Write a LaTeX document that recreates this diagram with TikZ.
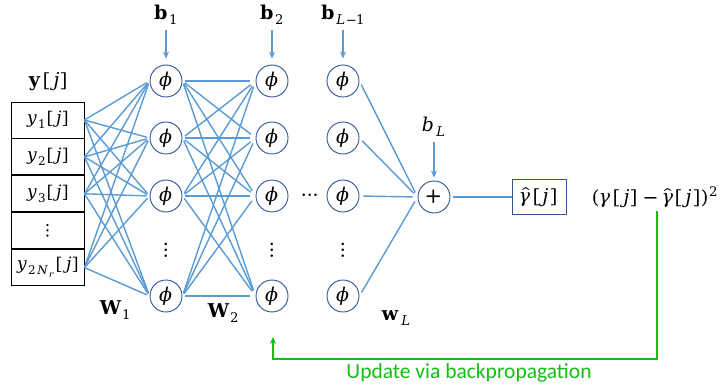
\documentclass[tikz,border=0pt]{standalone}
\usepackage{fontspec}
\usepackage{unicode-math}
\setmathfont{DejaVu Math TeX Gyre}
\newfontfamily\labelfont{Carlito}
\usetikzlibrary{arrows.meta}
\definecolor{linkblue}{RGB}{91,155,213}
\definecolor{ringblue}{RGB}{47,85,151}
\definecolor{updgreen}{RGB}{20,190,20}
\tikzset{
  neuron/.style={circle, draw=ringblue, line width=0.9pt, minimum size=32pt, inner sep=0pt, fill=white},
  inrow/.style={rectangle, draw=black, line width=0.9pt, minimum width=73pt, minimum height=36pt, inner sep=0pt},
  link/.style={draw=linkblue, line width=1.4pt},
  biasarrow/.style={draw=linkblue, line width=1.4pt, -{Stealth[length=7pt,width=6pt]}},
  mathlbl/.style={font=\fontsize{17}{20}\selectfont, inner sep=0pt},
  biglbl/.style={font=\fontsize{19}{22}\selectfont, inner sep=0pt},
}
\begin{document}
\begin{tikzpicture}[x=1pt,y=-1pt]
\useasboundingbox (0,0) rectangle (722,390);

% input vector
\node[biglbl] (ylab) at (48,82) {$\symbf{y}[j]$};
\node[inrow, mathlbl] (r1) at (47.5,120) {$y_1[j]$};
\node[inrow, mathlbl, anchor=north] (r2) at (r1.south) {$y_2[j]$};
\node[inrow, mathlbl, anchor=north] (r3) at (r2.south) {$y_3[j]$};
\node[inrow, mathlbl, anchor=north] (r4) at (r3.south) {$\vdots$};
\node[inrow, mathlbl, anchor=north] (r5) at (r4.south) {$y_{2N_r}[j]$};

% hidden layers
\foreach \c/\x in {a/166, b/272, c/343} {
  \node[neuron, biglbl] (\c1) at (\x,81) {$\phi$};
  \node[neuron, biglbl] (\c2) at (\x,138) {$\phi$};
  \node[neuron, biglbl] (\c3) at (\x,196) {$\phi$};
  \node[biglbl] (\c d) at (\x,250) {$\vdots$};
  \node[neuron, biglbl] (\c4) at (\x,296) {$\phi$};
}
\node[biglbl] (hdots) at (310,197) {$\cdots$};

% output neuron and estimate
\node[neuron, font=\fontsize{21}{24}\selectfont, inner sep=0pt] (sum) at (434,197) {$+$};
\node[rectangle, draw=ringblue, line width=0.9pt, minimum width=54pt, minimum height=35pt, inner sep=0pt, biglbl] (yhat) at (539,197) {$\hat{\gamma}[j]$};
\node[biglbl] (loss) at (655,197) {$(\gamma[j]-\hat{\gamma}[j])^2$};

% biases
\node[biglbl] (bias1) at (166,15) {$\symbf{b}_1$};
\node[biglbl] (bias2) at (272,15) {$\symbf{b}_2$};
\node[biglbl] (bias3) at (343,15) {$\symbf{b}_{L-1}$};
\node[biglbl] (biasL) at (434,127) {$b_L$};
\foreach \b/\n in {bias1/a1, bias2/b1, bias3/c1} {
  \draw[biasarrow, shorten <=5pt, shorten >=6pt] (\b.south) -- (\n.north);
}
\draw[biasarrow, shorten <=5pt, shorten >=3pt] (biasL.south) -- (sum.north);

% weight labels
\node[biglbl] (W1) at (115,310) {$\symbf{W}_1$};
\node[biglbl] (W2) at (223,313) {$\symbf{W}_2$};
\node[biglbl] (wL) at (396,318) {$\symbf{w}_L$};

% input -> first layer
\foreach \r in {r1,r2,r3,r5} {
  \foreach \n in {a1,a2,a3,a4} {
    \draw[link, shorten >=3pt] (\r.east) -- (\n.west);
  }
}
% first -> second layer
\foreach \m in {a1,a2,a3,a4} {
  \foreach \n in {b1,b2,b3,b4} {
    \draw[link, shorten <=3pt, shorten >=6pt] (\m.east) -- (\n.west);
  }
}
% last hidden layer -> output neuron
\foreach \m in {c1,c2,c3,c4} {
  \draw[link, shorten <=4pt, shorten >=5pt] (\m.east) -- (sum.west);
}
\draw[link, shorten <=3pt] (sum.east) -- (yhat.west);

% backpropagation path
\coordinate (g1) at (657,359);
\coordinate (g2) at (273,359);
\coordinate (g3) at (273,337);
\draw[draw=updgreen, line width=1.3pt, -{Stealth[length=7pt,width=6pt]}]
  ([yshift=-3pt]loss.south -| g1) -- (g1) -- (g2) -- (g3);
\node[text=updgreen, font=\labelfont\fontsize{21.5}{24}\selectfont, inner sep=0pt] (upd) at (469,373) {Update via backpropagation};
\end{tikzpicture}
\end{document}
